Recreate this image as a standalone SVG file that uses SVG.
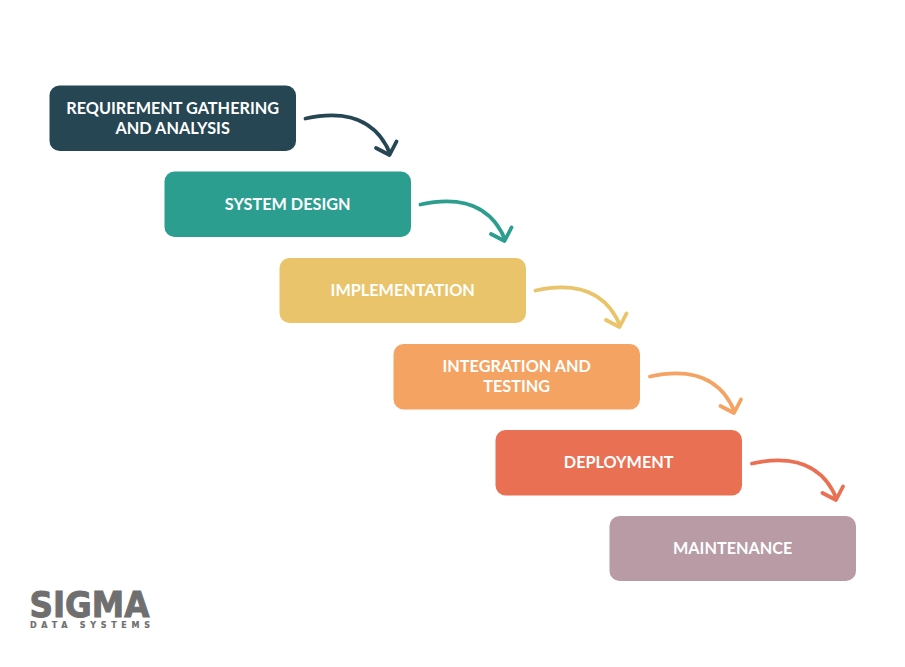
<svg xmlns="http://www.w3.org/2000/svg" width="905" height="667" viewBox="0 0 905 667">
<style>
text{font-family:Lato,"Liberation Sans",sans-serif}
.l{font-size:16.250px;font-weight:700;fill:#fff;text-anchor:middle}
.b{stroke:none}
.c{fill:none;stroke-width:3.800;stroke-linecap:round;stroke-linejoin:round}
.logo{font-family:"DejaVu Sans",sans-serif;font-weight:700;fill:#6f6f6f;stroke:#6f6f6f}
</style>
<rect width="905" height="667" fill="#fff"/>
<g id="n1"><rect class="b" x="49.500" y="85.500" width="246.500" height="65.500" rx="10" fill="#264653"/><text class="l" x="172.700" y="114.100">REQUIREMENT GATHERING</text><text class="l" x="172.700" y="134.100">AND ANALYSIS</text></g>
<g id="n2"><rect class="b" x="164.500" y="171.500" width="246.500" height="65.500" rx="10" fill="#2C9E8F"/><text class="l" x="287.700" y="210.100">SYSTEM DESIGN</text></g>
<g id="n3"><rect class="b" x="279.500" y="258" width="246.500" height="65" rx="10" fill="#E9C46A"/><text class="l" x="402.700" y="296.100">IMPLEMENTATION</text></g>
<g id="n4"><rect class="b" x="393.500" y="344" width="246.500" height="65.500" rx="10" fill="#F5A362"/><text class="l" x="516.700" y="372.100">INTEGRATION AND</text><text class="l" x="516.700" y="392.100">TESTING</text></g>
<g id="n5"><rect class="b" x="495.500" y="430" width="246.500" height="65.500" rx="10" fill="#E97052"/><text class="l" x="618.700" y="468.100">DEPLOYMENT</text></g>
<g id="n6"><rect class="b" x="609.500" y="516" width="246.500" height="65" rx="10" fill="#B89BA5"/><text class="l" x="732.700" y="554.100">MAINTENANCE</text></g>
<g id="connectors">
<path class="c" stroke="#264653" d="M305.500 118.500C330.500 113 372 110 390 153.500M376 148L389.500 155L396.500 141.500"/>
<path class="c" stroke="#2C9E8F" d="M420.500 204.500C445.500 199 487 196 505 239.500M491 234L504.500 241L511.500 227.500"/>
<path class="c" stroke="#E9C46A" d="M535.500 290.500C560.500 285 602 282 620 325.500M606 320L619.500 327L626.500 313.500"/>
<path class="c" stroke="#F5A362" d="M650 376.500C675 371 716.500 368 734.500 411.500M720.500 406L734 413L741 399.500"/>
<path class="c" stroke="#E97052" d="M752 463.500C777 458 818.500 455 836.500 498.500M822.500 493L836 500L843 486.500"/>
</g>
<g id="logo">
<text class="logo" x="29.500" y="616.500" font-size="35.500" stroke-width="1" textLength="120" lengthAdjust="spacingAndGlyphs">SIGMA</text>
<text class="logo" x="30" y="627.500" font-size="8" stroke-width="0.200" textLength="120" lengthAdjust="spacing">DATA SYSTEMS</text>
</g>
</svg>
